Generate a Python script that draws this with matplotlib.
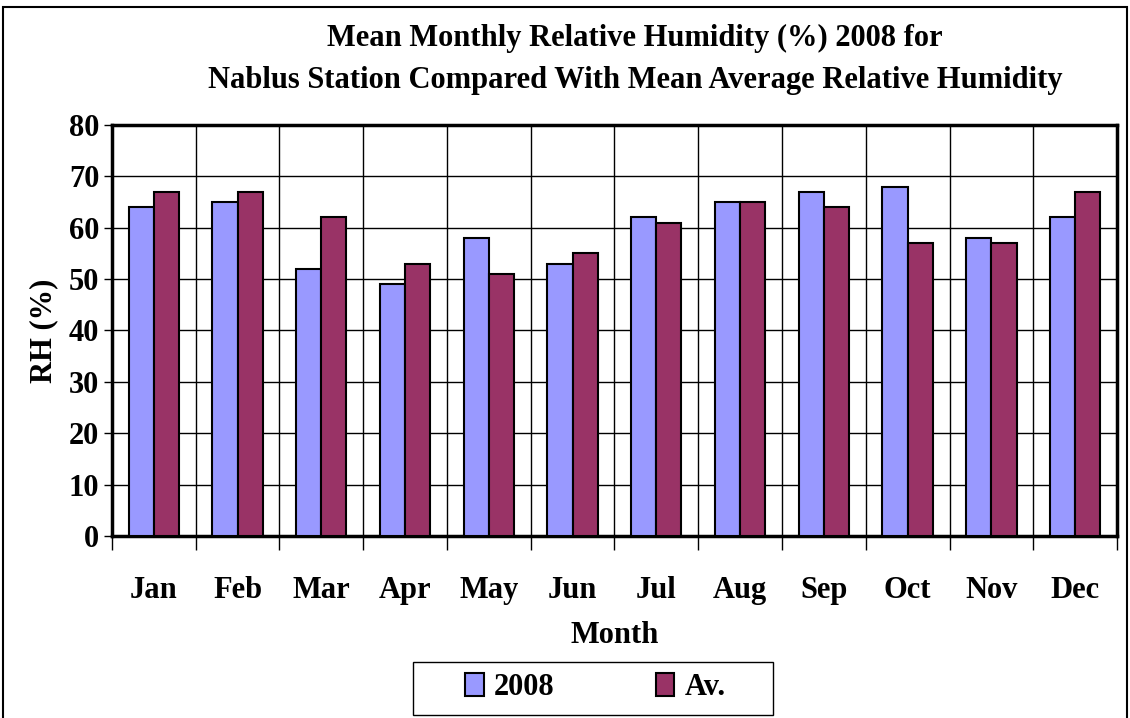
import numpy as np
import matplotlib.pyplot as plt
from matplotlib.patches import Rectangle

months = ['Jan', 'Feb', 'Mar', 'Apr', 'May', 'Jun', 'Jul', 'Aug', 'Sep', 'Oct', 'Nov', 'Dec']
rh_2008 = [64, 65, 52, 49, 58, 53, 62, 65, 67, 68, 58, 62]
rh_av = [67, 67, 62, 53, 51, 55, 61, 65, 64, 57, 57, 67]
yticks = [0, 10, 20, 30, 40, 50, 60, 70, 80]

plt.rcParams['font.family'] = ['Liberation Serif', 'DejaVu Serif']
plt.rcParams['font.weight'] = 'bold'
FS = 22

fig = plt.figure(figsize=(11.3, 7.18), dpi=100)
ax = fig.add_axes([0.0991, 0.2535, 0.8894, 0.5725])

x = np.arange(len(months))
w = 0.3
ax.bar(x - w / 2, rh_2008, w, color='#9999FF', edgecolor='black', linewidth=1.5, label='2008', zorder=3)
ax.bar(x + w / 2, rh_av, w, color='#993366', edgecolor='black', linewidth=1.5, label='Av.', zorder=3)

ax.set_xlim(-0.5, len(months) - 0.5)
ax.set_ylim(0, 80)
ax.set_yticks(yticks)
ax.set_yticklabels([str(v) for v in yticks], fontsize=FS, fontweight='bold')

# category labels centred, ticks at boundaries
ax.set_xticks(x)
ax.set_xticklabels(months, fontsize=FS, fontweight='bold')
ax.tick_params(axis='x', length=0, pad=29)
ax.set_xticks(np.arange(-0.5, len(months)), minor=True)
ax.tick_params(axis='x', which='minor', length=10, width=1, direction='out')
ax.tick_params(axis='y', length=6, width=1, direction='out', pad=3)

ax.grid(True, which='minor', axis='x', color='black', linewidth=1, zorder=0)
ax.grid(True, which='major', axis='y', color='black', linewidth=1, zorder=0)
ax.set_axisbelow(True)

for s in ax.spines.values():
    s.set_linewidth(2.5)

ax.set_ylabel('RH (%)', fontsize=FS, fontweight='bold', labelpad=8)
ax.set_xlabel('Month', fontsize=FS, fontweight='bold', labelpad=11)

fig.text(0.562, 0.947, 'Mean Monthly Relative Humidity (%) 2008 for', ha='center', va='center',
         fontsize=FS, fontweight='bold')
fig.text(0.562, 0.888, 'Nablus Station Compared With Mean Average Relative Humidity', ha='center',
         va='center', fontsize=FS, fontweight='bold')

leg = fig.legend(loc='center', bbox_to_anchor=(0.527, 0.042), ncol=2, frameon=False,
                 fontsize=FS, handlelength=0.6, handleheight=0.75,
                 columnspacing=3.3, borderpad=0.4, handletextpad=0.35)
# legend box (wider than the legend entries)
fig.patches.append(Rectangle((413 / 1130, 3 / 718), 360 / 1130, 53 / 718, transform=fig.transFigure,
                             fill=False, edgecolor='black', linewidth=1))

fig.patches.append(Rectangle((0.003, -0.01), 0.994, 1.0, transform=fig.transFigure,
                             fill=False, edgecolor='black', linewidth=1.5))

fig.savefig('out.png', dpi=100)
